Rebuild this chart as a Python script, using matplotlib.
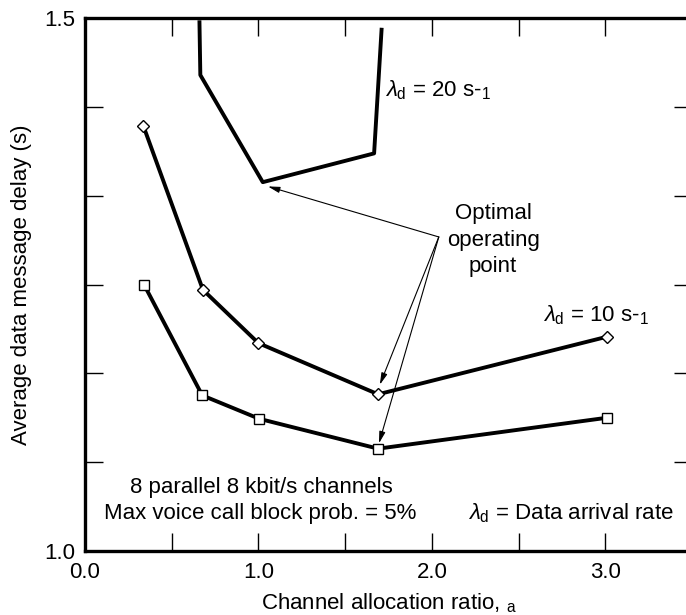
import numpy as np
import matplotlib
matplotlib.use("Agg")
import matplotlib.pyplot as plt

# values
x_low = [0.34, 0.676, 1.005, 1.69, 3.01]
y_low = [1.250, 1.146, 1.124, 1.096, 1.125]

x_10 = [0.336, 0.68, 1.0, 1.69, 3.01]
y_10 = [1.399, 1.245, 1.195, 1.147, 1.201]

x_20 = [0.66, 0.665, 1.025, 1.667, 1.71]
y_20 = [1.496, 1.4465, 1.346, 1.373, 1.489]

x_tick_labels = ["0.0", "", "1.0", "", "2.0", "", "3.0", ""]
y_tick_labels = ["1.0", "", "", "", "", "", "1.5"]

plt.rcParams["font.family"] = ["Liberation Sans", "DejaVu Sans"]
plt.rcParams["mathtext.fontset"] = "custom"
plt.rcParams["mathtext.rm"] = "Liberation Sans"
plt.rcParams["mathtext.it"] = "Liberation Sans:italic"

fig = plt.figure(figsize=(6.86, 6.15), dpi=100)
ax = fig.add_axes([85 / 686, 64 / 615, 607 / 686, 533 / 615])

ax.plot(x_low, y_low, color="black", lw=2.8, marker="s", ms=7,
        mfc="white", mec="black", mew=1.0, zorder=3)
ax.plot(x_10, y_10, color="black", lw=2.8, marker="D", ms=6.5,
        mfc="white", mec="black", mew=1.0, zorder=3)
ax.plot(x_20, y_20, color="black", lw=2.8, zorder=3)

ax.set_xlim(0, 3.5)
ax.set_ylim(1.0, 1.5)

ax.set_xticks(np.arange(0, 3.51, 0.5))
ax.set_xticklabels(x_tick_labels)
ax.set_yticks(np.linspace(1.0, 1.5, 7))
ax.set_yticklabels(y_tick_labels)
ax.tick_params(direction="in", length=13, width=1.0, labelsize=16,
               top=True, right=True, pad=8)
ax.tick_params(axis="y", pad=7)
for sp in ax.spines.values():
    sp.set_linewidth(2.4)

ax.set_xlabel("Channel allocation ratio, $_{\\rm a}$", fontsize=16, labelpad=6)
ax.set_ylabel("Average data message delay (s)", fontsize=16, labelpad=9)

fs = 16
ax.text(1.73, 1.432, r"$\lambda_{\rm d}$ = 20 s-$_{1}$", fontsize=fs,
        ha="left", va="center")
ax.text(2.64, 1.221, r"$\lambda_{\rm d}$ = 10 s-$_{1}$", fontsize=fs,
        ha="left", va="center")
ax.text(1.015, 1.060, "8 parallel 8 kbit/s channels", fontsize=fs,
        ha="center", va="center")
ax.text(1.01, 1.0356, "Max voice call block prob. = 5%", fontsize=fs,
        ha="center", va="center")
ax.text(2.209, 1.0356, r"$\lambda_{\rm d}$ = Data arrival rate", fontsize=fs,
        ha="left", va="center")
ax.text(2.353, 1.2917, "Optimal\noperating\npoint", fontsize=fs,
        ha="center", va="center", linespacing=1.35)

arrow = dict(arrowstyle="-|>,head_length=0.7,head_width=0.18",
             color="black", lw=0.8, shrinkA=0, shrinkB=0)
start = (2.04, 1.2946)
for tip in [(1.055, 1.342), (1.70, 1.156), (1.695, 1.101)]:
    ax.annotate("", xy=tip, xytext=start, arrowprops=arrow)

fig.savefig("out.png", dpi=100)
